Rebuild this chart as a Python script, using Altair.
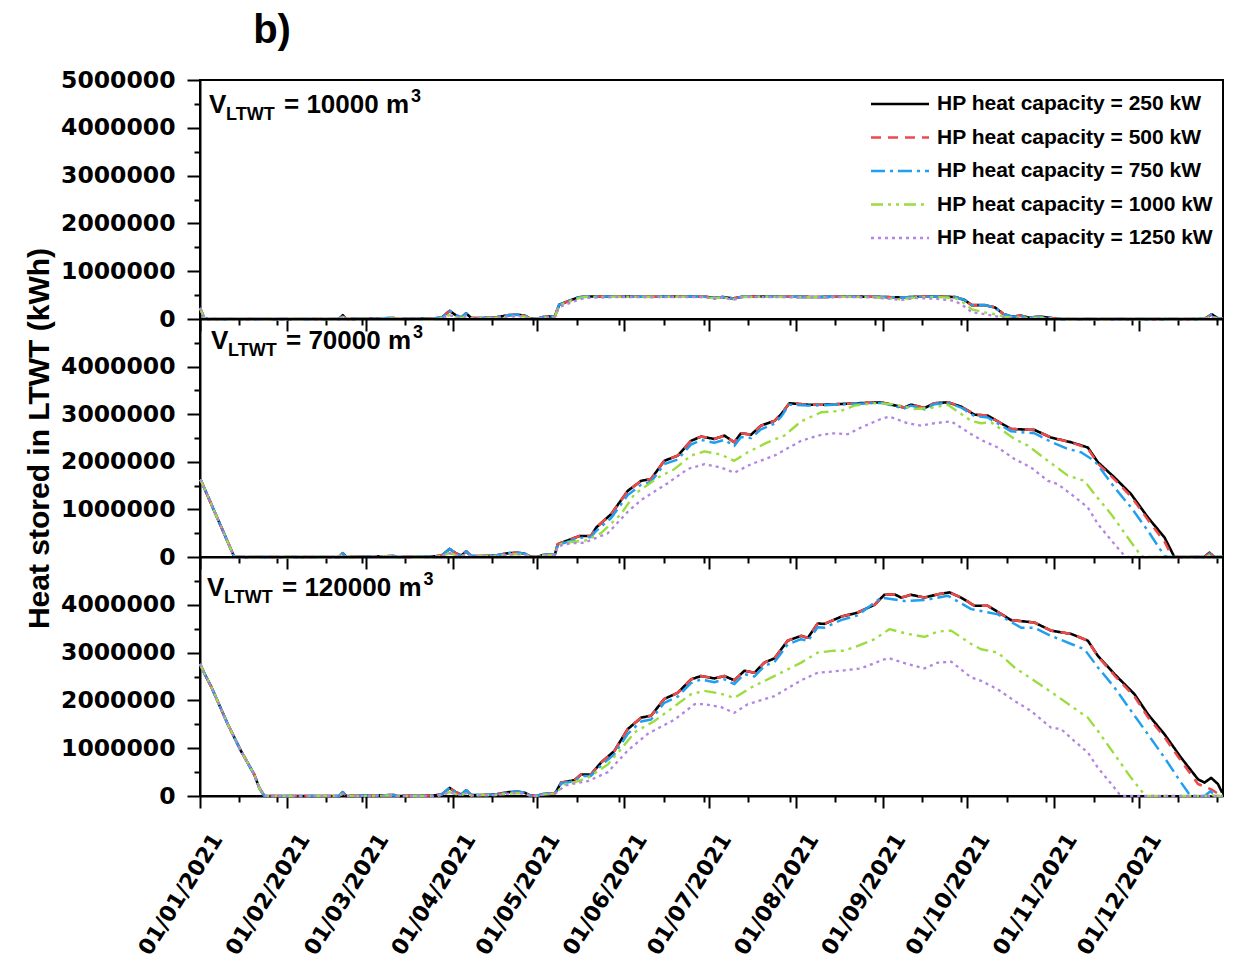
import altair as alt
import pandas as pd

# ---------------- series definitions ----------------
SERIES = [
    "HP heat capacity = 250 kW",
    "HP heat capacity = 500 kW",
    "HP heat capacity = 750 kW",
    "HP heat capacity = 1000 kW",
    "HP heat capacity = 1250 kW",
]
COLORS = ["#000000", "#EF4A4A", "#1F9FEF", "#9ADD3C", "#B384E2"]
DASHES = [[1, 0], [10, 7], [14, 5, 3, 5], [12, 5, 3, 5, 3, 5], [3, 4]]
WIDTHS = [2.6, 2.3, 2.3, 2.3, 2.3]
VOLUMES = ["10000", "70000", "120000"]
Y_TITLE = "Heat stored in LTWT (kWh)"
PANEL_TAG = "b)"

# values in million kWh, positions as day of year 2021
START_TOP_D = [0, 1.5, 3, 49.5]
START_TOP_V = [0.23, 0.02, 0, 0]
START_MID_D = [0, 0.4, 12.2, 49.5]
START_MID_V = [1.62, 1.6, 0, 0]
START_BOT_D = [0, 2.1, 3.9, 9.9, 14.6, 19.3, 21.1, 22.9, 49.5]
START_BOT_V = [2.76, 2.5, 2.3, 1.5, 0.94, 0.45, 0.17, 0, 0]

WINTER_D = [50.8, 52, 69, 70, 83, 86, 88.8, 91, 93, 94.7, 96.5, 100, 105, 109.6, 113, 115.5, 117.5, 119.7, 122, 126.3]
WINTER_HI = [0.08, 0, 0.02, 0, 0.01, 0.03, 0.17, 0.08, 0.03, 0.12, 0.02, 0.02, 0.03, 0.08, 0.09, 0.07, 0.01, 0, 0.04, 0.06]
WINTER_LO = [0.05, 0, 0.01, 0, 0, 0.02, 0.08, 0.04, 0.02, 0.06, 0.01, 0.02, 0.02, 0.05, 0.06, 0.05, 0.01, 0, 0.03, 0.05]

# ---- V = 10000 m3 ----
TOP_D = [127.8, 134.5, 137, 150, 160, 170, 180, 183, 186, 189.7, 193, 200, 210, 220, 230, 240, 249.6, 255, 262,
         268.6, 272, 274.6, 279.3, 282.9, 286, 289, 292, 295, 299, 303, 306.6, 355, 358, 360, 362, 364]
TOP_HI = [0.3, 0.45, 0.47, 0.47, 0.465, 0.47, 0.465, 0.44, 0.46, 0.43, 0.465, 0.47, 0.465, 0.46, 0.47, 0.465, 0.45,
          0.465, 0.47, 0.46, 0.4, 0.29, 0.29, 0.24, 0.1, 0.05, 0.07, 0.03, 0.05, 0.02, 0, 0, 0.02, 0.1, 0.02, 0]
TOP_1000 = [0.28, 0.43, 0.46, 0.465, 0.46, 0.465, 0.46, 0.43, 0.455, 0.41, 0.46, 0.465, 0.46, 0.455, 0.465, 0.455,
            0.41, 0.455, 0.46, 0.44, 0.33, 0.2, 0.14, 0.1, 0.05, 0.03, 0.04, 0.02, 0.03, 0.01, 0, 0, 0.01, 0.06, 0.01, 0]
TOP_1250 = [0.25, 0.4, 0.44, 0.46, 0.455, 0.46, 0.455, 0.42, 0.45, 0.4, 0.455, 0.46, 0.455, 0.45, 0.46, 0.45, 0.4,
            0.44, 0.42, 0.38, 0.26, 0.14, 0.1, 0.06, 0.03, 0.02, 0.02, 0.01, 0.02, 0, 0, 0, 0.01, 0.05, 0.01, 0]

# ---- V = 70000 m3 ----
MID_250_D = [127.3, 135.0, 139.1, 141.0, 146.3, 152.2, 157.0, 160.5, 165.2, 170.0, 174.7, 178.3, 183.0, 186.6,
             190.1, 192.5, 196.1, 199.6, 204.4, 206.8, 209.7, 216.3, 222.2, 234.1, 242.3, 250.6, 253.0, 257.8,
             261.3, 266.1, 270.8, 275.6, 280.3, 288.6, 296.9, 302.8, 310.0, 315.9, 319.5, 325.4, 331.3, 337.3,
             343.2, 346.7, 357.3, 359.2, 360.9, 364]
MID_250_V = [0.27, 0.44, 0.44, 0.62, 0.9, 1.39, 1.6, 1.64, 2.02, 2.13, 2.44, 2.53, 2.48, 2.55, 2.41, 2.6, 2.57,
             2.76, 2.86, 3.0, 3.23, 3.2, 3.2, 3.23, 3.25, 3.14, 3.2, 3.13, 3.23, 3.25, 3.16, 2.99, 2.97, 2.69,
             2.67, 2.51, 2.41, 2.3, 1.99, 1.67, 1.32, 0.83, 0.41, 0, 0, 0.09, 0, 0]
MID_500_D = [127.3, 135.0, 139.1, 141.0, 146.3, 152.2, 157.0, 160.5, 165.2, 170.0, 174.7, 178.3, 183.0, 186.6,
             190.1, 192.5, 196.1, 199.6, 204.4, 206.8, 209.7, 216.3, 222.2, 234.1, 242.3, 250.6, 253.0, 257.8,
             261.3, 266.1, 270.8, 275.6, 280.3, 288.6, 296.9, 302.8, 310.0, 315.9, 319.5, 325.4, 331.3, 337.3,
             343.2, 346.0, 357.3, 359.2, 360.9, 364]
MID_500_V = [0.27, 0.44, 0.44, 0.62, 0.9, 1.39, 1.6, 1.64, 2.02, 2.13, 2.44, 2.53, 2.48, 2.55, 2.41, 2.6, 2.57,
             2.76, 2.86, 3.0, 3.23, 3.2, 3.2, 3.23, 3.25, 3.14, 3.2, 3.13, 3.23, 3.25, 3.16, 2.99, 2.97, 2.69,
             2.67, 2.51, 2.41, 2.28, 1.96, 1.63, 1.27, 0.78, 0.32, 0, 0, 0.08, 0, 0]
MID_750_D = [127.3, 135.0, 139.1, 141.0, 146.3, 152.2, 157.0, 160.5, 165.2, 170.0, 174.7, 178.3, 183.0, 186.6,
             190.1, 192.5, 196.1, 199.6, 204.4, 206.8, 209.7, 216.3, 222.2, 234.1, 242.3, 250.6, 253.0, 257.8,
             261.3, 266.1, 270.8, 275.6, 280.3, 288.6, 296.9, 302.8, 308.8, 313.5, 318.3, 325.4, 331.3, 337.3,
             343.2, 344.5, 357.3, 359.2, 360.9, 364]
MID_750_V = [0.25, 0.4, 0.42, 0.55, 0.82, 1.3, 1.52, 1.58, 1.95, 2.05, 2.36, 2.46, 2.4, 2.46, 2.33, 2.52, 2.5,
             2.68, 2.8, 2.95, 3.2, 3.18, 3.19, 3.22, 3.24, 3.12, 3.18, 3.1, 3.21, 3.24, 3.14, 2.96, 2.93, 2.64,
             2.6, 2.42, 2.27, 2.2, 2.02, 1.46, 1.04, 0.55, 0.02, 0, 0, 0.07, 0, 0]
MID_1000_D = [127.3, 130, 133, 136.8, 142.7, 149.8, 154.6, 163.0, 168.9, 174.7, 179.5, 185.4, 190.1, 194.9, 202.0,
              207.9, 213.9, 221.0, 228.1, 232.8, 240.0, 247.1, 254.2, 260, 266.1, 274.4, 277.9, 281.5, 289.8,
              294.6, 301.7, 308.8, 314.7, 318.3, 324.2, 330.1, 334.9, 336, 358, 359.5, 361, 364]
MID_1000_V = [0.25, 0.3, 0.32, 0.34, 0.5, 0.9, 1.32, 1.67, 1.85, 2.13, 2.22, 2.15, 2.02, 2.2, 2.41, 2.55, 2.85,
              3.04, 3.07, 3.18, 3.23, 3.21, 3.11, 3.13, 3.2, 2.86, 2.81, 2.83, 2.48, 2.34, 2.02, 1.71, 1.6, 1.32,
              0.9, 0.41, 0.02, 0, 0, 0.05, 0, 0]
MID_1250_D = [127.3, 130, 133, 136.8, 145.1, 152.2, 157.0, 166.4, 173.6, 179.5, 185.4, 190.1, 196.1, 204.4, 213.9,
              219.8, 224.6, 230.5, 235.2, 242.3, 245.3, 251.8, 256.6, 261.3, 267.3, 274.4, 277.9, 283.9, 289.8,
              295.7, 301.7, 305.2, 310.0, 315.9, 319.5, 325.4, 329.0, 330, 364]
MID_1250_V = [0.22, 0.27, 0.29, 0.3, 0.5, 0.95, 1.2, 1.55, 1.85, 1.95, 1.88, 1.77, 1.95, 2.13, 2.44, 2.55, 2.6,
              2.58, 2.72, 2.9, 2.95, 2.81, 2.76, 2.81, 2.85, 2.58, 2.46, 2.3, 2.06, 1.88, 1.6, 1.53, 1.32, 1.04,
              0.69, 0.27, 0.02, 0, 0]

# ---- V = 120000 m3 ----
BOT_250_D = [126.8, 128.5, 133.2, 135.6, 139.1, 142.7, 147.4, 152.2, 157.0, 160.5, 165.2, 170.0, 174.7, 178.3,
             183.0, 186.6, 190.1, 193.7, 197.3, 200.8, 204.4, 209.1, 213.9, 216.3, 219.8, 222.2, 228.1, 234.1,
             240.0, 243.5, 247.1, 249.5, 253.0, 257.8, 262.5, 266.7, 270.8, 275.6, 280.3, 288.6, 296.9, 302.8,
             310.0, 315.9, 319.5, 325.4, 332.5, 337.3, 343.2, 349.1, 355.1, 357.4, 359.8, 362.2, 363.7]
BOT_250_V = [0.1, 0.28, 0.33, 0.45, 0.45, 0.7, 0.94, 1.4, 1.64, 1.68, 2.03, 2.16, 2.44, 2.51, 2.46, 2.51, 2.42,
             2.62, 2.58, 2.79, 2.88, 3.25, 3.35, 3.31, 3.61, 3.6, 3.75, 3.84, 4.0, 4.21, 4.22, 4.15, 4.21, 4.15,
             4.22, 4.26, 4.15, 3.98, 3.98, 3.68, 3.63, 3.46, 3.39, 3.25, 2.93, 2.55, 2.13, 1.71, 1.29, 0.8, 0.35,
             0.28, 0.38, 0.25, 0.07]
BOT_500_V = [0.1, 0.28, 0.33, 0.45, 0.45, 0.7, 0.94, 1.4, 1.64, 1.68, 2.03, 2.16, 2.44, 2.51, 2.46, 2.51, 2.42,
             2.62, 2.58, 2.79, 2.88, 3.25, 3.35, 3.31, 3.61, 3.6, 3.75, 3.84, 4.0, 4.21, 4.22, 4.15, 4.21, 4.15,
             4.22, 4.26, 4.15, 3.98, 3.98, 3.68, 3.63, 3.46, 3.39, 3.25, 2.92, 2.52, 2.08, 1.65, 1.23, 0.73, 0.25,
             0.2, 0.14, 0.05, 0]
BOT_750_D = [126.8, 128.5, 133.2, 135.6, 139.1, 142.7, 147.4, 152.2, 157.0, 160.5, 165.2, 170.0, 174.7, 178.3,
             183.0, 186.6, 190.1, 193.7, 197.3, 200.8, 204.4, 209.1, 213.9, 216.3, 219.8, 222.2, 228.1, 234.1,
             242.3, 250.6, 258, 266.1, 274.4, 283.9, 292.2, 296.9, 302.8, 310.0, 314.7, 319.5, 325.4, 331.3,
             337.3, 343.2, 349.1, 352.1, 353, 357.5, 359.5, 361.5, 364]
BOT_750_V = [0.09, 0.26, 0.31, 0.42, 0.42, 0.64, 0.87, 1.3, 1.56, 1.6, 1.95, 2.08, 2.36, 2.44, 2.38, 2.44, 2.34,
             2.55, 2.5, 2.72, 2.8, 3.17, 3.28, 3.24, 3.53, 3.52, 3.68, 3.78, 4.15, 4.08, 4.1, 4.19, 3.91, 3.8, 3.52,
             3.52, 3.35, 3.18, 3.07, 2.69, 2.27, 1.78, 1.29, 0.8, 0.28, 0.03, 0, 0, 0.1, 0, 0]
BOT_1000_D = [126.8, 130, 134, 138.0, 145.1, 149.8, 154.6, 161.7, 168.9, 174.7, 179.5, 185.4, 190.1, 196.1, 206.8,
              213.9, 219.8, 225.7, 229.3, 234.1, 240.0, 245.3, 251.8, 257.8, 262.5, 267.3, 274.4, 277.9, 283.9,
              289.8, 296.9, 304.0, 310.0, 315.9, 319.5, 325.4, 331.3, 336.0, 337, 358, 359.5, 361, 364]
BOT_1000_V = [0.08, 0.25, 0.3, 0.38, 0.66, 0.98, 1.33, 1.57, 1.88, 2.13, 2.2, 2.14, 2.05, 2.27, 2.58, 2.79, 3.0,
              3.04, 3.04, 3.14, 3.28, 3.49, 3.39, 3.33, 3.44, 3.46, 3.18, 3.07, 3.0, 2.69, 2.41, 2.13, 1.88, 1.64,
              1.36, 0.87, 0.38, 0.03, 0, 0, 0.04, 0, 0]
BOT_1250_D = [126.8, 130, 134, 138.0, 145.1, 152.2, 159.3, 168.9, 176.0, 179.5, 185.4, 190.1, 194.9, 204.4, 213.9,
              219.8, 228.1, 235.2, 243.5, 245.3, 251.8, 257.8, 262.5, 267.3, 274.4, 277.9, 283.9, 289.8, 295.7,
              302.8, 306.4, 311.1, 315.9, 319.5, 325.4, 327.2, 328, 364]
BOT_1250_V = [0.07, 0.22, 0.27, 0.31, 0.5, 0.95, 1.3, 1.6, 1.92, 1.92, 1.86, 1.74, 1.92, 2.09, 2.42, 2.58, 2.62,
              2.67, 2.86, 2.88, 2.76, 2.67, 2.79, 2.81, 2.48, 2.41, 2.23, 1.99, 1.78, 1.43, 1.4, 1.15, 0.91, 0.59,
              0.17, 0.03, 0, 0]

PANELS = [
    [  # 10000 m3
        (START_TOP_D + WINTER_D + TOP_D, START_TOP_V + WINTER_HI + TOP_HI),
        (START_TOP_D + WINTER_D + TOP_D, START_TOP_V + WINTER_HI + TOP_HI),
        (START_TOP_D + WINTER_D + TOP_D, START_TOP_V + WINTER_HI + TOP_HI),
        (START_TOP_D + WINTER_D + TOP_D, START_TOP_V + WINTER_LO + TOP_1000),
        (START_TOP_D + WINTER_D + TOP_D, START_TOP_V + WINTER_LO + TOP_1250),
    ],
    [  # 70000 m3
        (START_MID_D + WINTER_D + MID_250_D, START_MID_V + WINTER_HI + MID_250_V),
        (START_MID_D + WINTER_D + MID_500_D, START_MID_V + WINTER_HI + MID_500_V),
        (START_MID_D + WINTER_D + MID_750_D, START_MID_V + WINTER_HI + MID_750_V),
        (START_MID_D + WINTER_D + MID_1000_D, START_MID_V + WINTER_LO + MID_1000_V),
        (START_MID_D + WINTER_D + MID_1250_D, START_MID_V + WINTER_LO + MID_1250_V),
    ],
    [  # 120000 m3
        (START_BOT_D + WINTER_D + BOT_250_D, START_BOT_V + WINTER_HI + BOT_250_V),
        (START_BOT_D + WINTER_D + BOT_250_D, START_BOT_V + WINTER_HI + BOT_500_V),
        (START_BOT_D + WINTER_D + BOT_750_D, START_BOT_V + WINTER_HI + BOT_750_V),
        (START_BOT_D + WINTER_D + BOT_1000_D, START_BOT_V + WINTER_LO + BOT_1000_V),
        (START_BOT_D + WINTER_D + BOT_1250_D, START_BOT_V + WINTER_LO + BOT_1250_V),
    ],
]

T0 = pd.Timestamp("2021-01-01", tz="UTC")


def ms(day):
    return int((T0 + pd.Timedelta(days=day)).timestamp() * 1000)


def panel_frame(pi):
    parts = []
    for si, (days, vals) in enumerate(PANELS[pi]):
        seg = pd.DataFrame({"day": days, "v": vals})
        seg["value"] = seg["v"] * 1e6
        seg["date"] = (T0 + pd.to_timedelta(seg["day"], unit="D")).dt.strftime("%Y-%m-%dT%H:%M:%SZ")
        seg["series"] = SERIES[si]
        parts.append(seg[["date", "value", "series"]])
    return pd.concat(parts, ignore_index=True)


# ---------------- axes ----------------
X_DOMAIN = [ms(0), ms(364)]
MAJOR_X = [int(pd.Timestamp(f"2021-{m:02d}-01", tz="UTC").timestamp() * 1000) for m in range(1, 13)]
MINOR_X = [int(pd.Timestamp(f"2021-{m:02d}-15", tz="UTC").timestamp() * 1000) for m in range(1, 13)]
MINOR_X += [ms(27.4 + 30.42 * k) for k in range(12)]

BLK = "#000000"
LABEL_FONT = "DejaVu Sans"
TEXT_FONT = "Liberation Sans"

xscale = alt.Scale(type="utc", domain=X_DOMAIN, nice=False)
yscale = alt.Scale(domain=[0, 5e6], nice=False, zero=True)


def x_major(show_labels):
    kw = dict(orient="bottom", values=MAJOR_X, ticks=True, tickSize=12, tickWidth=2, tickColor=BLK,
              domain=True, domainColor=BLK, domainWidth=2, grid=False, title=None)
    if show_labels:
        kw.update(labels=True, format="%d/%m/%Y", labelAngle=302, labelAlign="right", labelBaseline="middle",
                  labelFont=LABEL_FONT, labelFontWeight="bold", labelFontSize=22, labelColor=BLK,
                  labelPadding=27, labelOffset=17, labelOverlap=False, labelFlush=False)
    else:
        kw.update(labels=False)
    return alt.Axis(**kw)


X_MINOR = alt.Axis(orient="bottom", values=MINOR_X, ticks=True, tickSize=6, tickWidth=2, tickColor=BLK,
                   labels=False, domain=False, grid=False, title=None)


def y_major(top, with_title):
    vals = [0, 1e6, 2e6, 3e6, 4e6, 5e6] if top else [0, 1e6, 2e6, 3e6, 4e6]
    kw = dict(orient="left", values=vals, format="d", tickSize=13, tickWidth=2, tickColor=BLK,
              labelPadding=12, labelFont=LABEL_FONT, labelFontWeight="bold", labelFontSize=23.5,
              labelColor=BLK, labelOverlap=False, labelFlush=False, domain=True, domainColor=BLK,
              domainWidth=2, grid=False)
    if with_title:
        kw.update(title=Y_TITLE, titleFont=TEXT_FONT, titleFontSize=30, titleFontWeight="bold",
                  titleColor=BLK, titlePadding=6)
    else:
        kw.update(title=None)
    return alt.Axis(**kw)


Y_MINOR = alt.Axis(orient="left", values=[0.5e6, 1.5e6, 2.5e6, 3.5e6, 4.5e6], tickSize=6, tickWidth=2,
                   tickColor=BLK, labels=False, domain=False, grid=False, title=None)

# Liberation Sans Bold advance widths (em) for placing the superscript after the text
CHAR_W = {"=": 0.584, " ": 0.278, "m": 0.889}
BIG = 26


def text_width(s, size):
    return sum(CHAR_W.get(c, 0.556) for c in s) * size


def volume_label(vol, vx, vy):
    big = dict(font=TEXT_FONT, fontWeight="bold", fontSize=BIG, color=BLK, align="left", baseline="alphabetic")
    main_txt = f"= {vol} m"
    v = alt.Chart(pd.DataFrame({"t": ["V"]})).mark_text(**big).encode(
        x=alt.value(vx), y=alt.value(vy), text="t:N")
    sub = alt.Chart(pd.DataFrame({"t": ["LTWT"]})).mark_text(
        font=TEXT_FONT, fontWeight="bold", fontSize=18, color=BLK, align="left", baseline="alphabetic").encode(
        x=alt.value(vx + 17), y=alt.value(vy + 7), text="t:N")
    eq = alt.Chart(pd.DataFrame({"t": [main_txt]})).mark_text(**big).encode(
        x=alt.value(vx + 75), y=alt.value(vy), text="t:N")
    sup = alt.Chart(pd.DataFrame({"t": ["3"]})).mark_text(
        font=TEXT_FONT, fontWeight="bold", fontSize=18, color=BLK, align="left", baseline="alphabetic").encode(
        x=alt.value(vx + 77 + text_width(main_txt, BIG)), y=alt.value(vy - 11), text="t:N")
    return [v, sub, eq, sup]


def panel(pi, height, vx, vy):
    dfp = panel_frame(pi)
    lines = alt.Chart(dfp).mark_line(strokeCap="butt", strokeJoin="round").encode(
        x=alt.X("date:T", scale=xscale, axis=x_major(pi == 2)),
        y=alt.Y("value:Q", scale=yscale, axis=y_major(pi == 0, pi == 1)),
        color=alt.Color("series:N", scale=alt.Scale(domain=SERIES, range=COLORS), legend=None),
        strokeDash=alt.StrokeDash("series:N", scale=alt.Scale(domain=SERIES, range=DASHES), legend=None),
        strokeWidth=alt.StrokeWidth("series:N", scale=alt.Scale(domain=SERIES, range=WIDTHS), legend=None),
    )
    minor = alt.Chart(dfp).mark_line(opacity=0).encode(
        x=alt.X("date:T", scale=xscale, axis=X_MINOR),
        y=alt.Y("value:Q", scale=yscale, axis=Y_MINOR),
    )
    layers = [lines, minor] + volume_label(VOLUMES[pi], vx, vy)
    if pi == 0:
        for i, s in enumerate(SERIES):
            ry = 24 + 33.5 * i
            layers.append(
                alt.Chart(pd.DataFrame({"t": [s]})).mark_rule(
                    color=COLORS[i], strokeDash=DASHES[i], strokeWidth=WIDTHS[i], strokeCap="butt").encode(
                    x=alt.value(671), x2=alt.value(729), y=alt.value(ry)))
            layers.append(
                alt.Chart(pd.DataFrame({"t": [s]})).mark_text(
                    font=TEXT_FONT, fontWeight="bold", fontSize=21, color=BLK, align="left",
                    baseline="middle").encode(x=alt.value(737), y=alt.value(ry), text="t:N"))
        layers.append(
            alt.Chart(pd.DataFrame({"t": [PANEL_TAG]})).mark_text(
                font=TEXT_FONT, fontWeight="bold", fontSize=40, color=BLK, align="center",
                baseline="alphabetic").encode(x=alt.value(72), y=alt.value(-37), text="t:N"))
        # invisible anchor fixing the plot origin inside the page
        layers.append(
            alt.Chart(pd.DataFrame({"t": [0]})).mark_point(
                shape="square", size=1, filled=True, opacity=0).encode(
                x=alt.value(-198.5), y=alt.value(-78.5)))
    return alt.layer(*layers).resolve_axis(x="independent", y="independent").properties(
        width=1023, height=height)


top = panel(0, 239, 9, 33)
mid = panel(1, 238, 11, 30)
bot = panel(2, 239, 7, 39)

chart = alt.vconcat(top, mid, bot, spacing=0, bounds="flush").properties(padding=0).configure_view(
    stroke=BLK, strokeWidth=2)

chart.save("out.html", embed_options={"renderer": "svg", "actions": False})
